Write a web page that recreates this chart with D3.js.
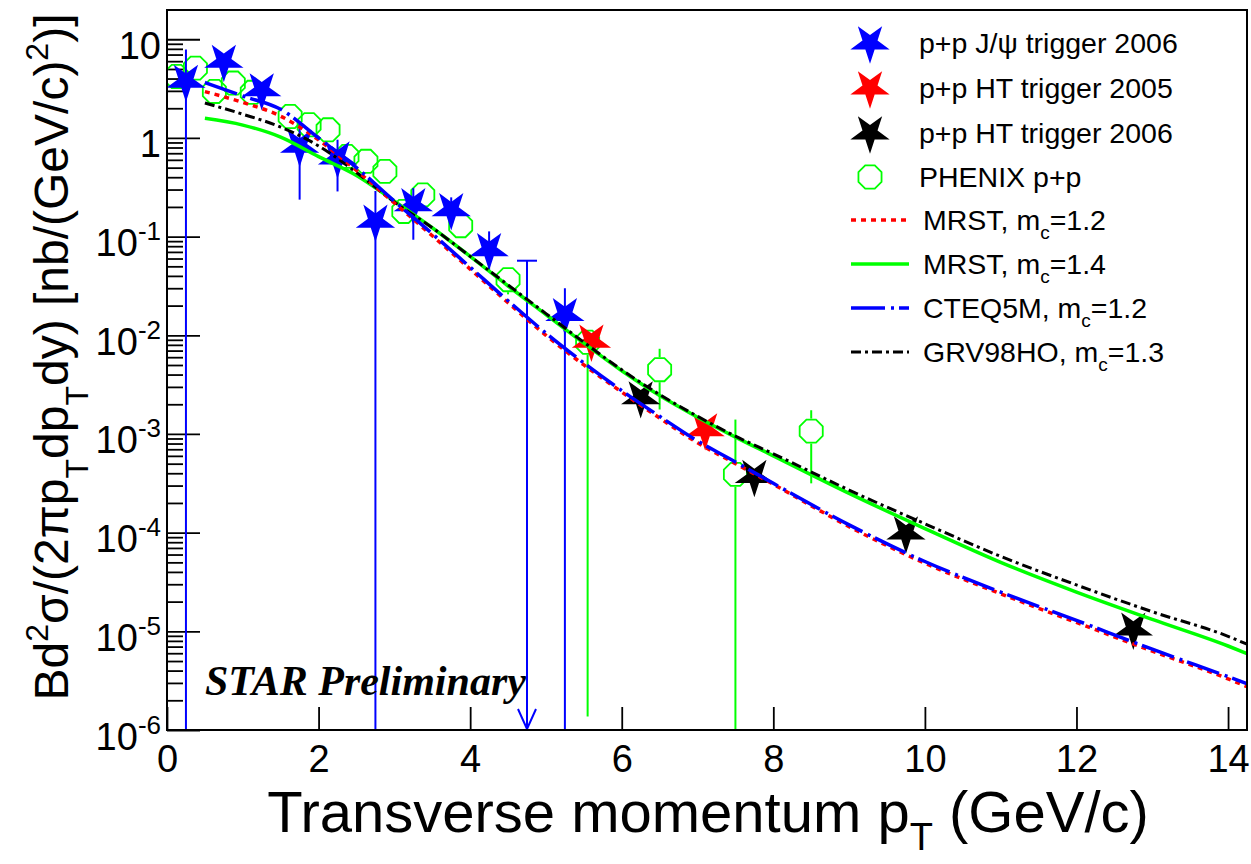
<!DOCTYPE html>
<html>
<head>
<meta charset="utf-8">
<script src="https://cdn.jsdelivr.net/npm/d3@7"></script>
<style>
  body { margin: 0; background: #fff; }
  text { font-family: "Liberation Sans", Arial, sans-serif; fill: #000; }
  text.prelim { font-family: "Liberation Serif", "Times New Roman", serif; font-weight: bold; font-style: italic; }
</style>
</head>
<body>
<svg></svg>
<script>
// ---- data ----
// STAR p+p J/psi trigger 2006
var jpsiPt  = [0.25, 0.75, 1.25, 1.75, 2.25, 2.75, 3.25, 3.75, 4.25, 5.25];
var jpsiVal = [3.74, 5.96, 3.07, 0.82, 0.625, 0.143, 0.21, 0.187, 0.0736, 0.0162];
var jpsiLo  = [1e-7, 5.0, 2.6, 0.237, 0.287, 1e-7, 0.093, 0.13, 0.0445, 1e-7];
var jpsiHi  = [7.9, 7.0, 3.6, 1.4, 0.96, 0.29, 0.31, 0.25, 0.113, 0.030];
// upper limit point
var limitPt = [4.75];
var limitVal = [0.057];
// STAR p+p HT trigger 2005
var ht05Pt  = [5.6, 7.1];
var ht05Val = [0.0087, 0.0011];
// STAR p+p HT trigger 2006
var ht06Pt  = [6.25, 7.75, 9.75, 12.75];
var ht06Val = [0.00232, 0.00037, 9.9e-5, 1.05e-5];
// PHENIX p+p
var phxPt  = [0.125, 0.375, 0.625, 0.875, 1.125, 1.625, 1.875, 2.125, 2.375, 2.625, 2.875, 3.125, 3.375, 3.875, 4.5, 5.55, 6.5, 7.5, 8.5];
var phxVal = [4.2, 5.1, 2.96, 3.6, 2.9, 1.65, 1.36, 1.21, 0.65, 0.58, 0.458, 0.18, 0.265, 0.129, 0.0366, 0.0085, 0.00448, 0.00039, 0.00107];
var phxLo  = [4.2, 5.1, 2.96, 3.6, 2.9, 1.65, 1.36, 1.21, 0.65, 0.58, 0.458, 0.18, 0.265, 0.1, 0.026, 1.37e-6, 0.00177, 1e-7, 0.000316];
var phxHi  = [4.2, 5.1, 2.96, 3.6, 2.9, 1.65, 1.36, 1.21, 0.65, 0.58, 0.458, 0.18, 0.265, 0.16, 0.047, 0.0085, 0.0073, 0.0014, 0.00174];

// theory curves
var thPt   = [0.5, 1, 1.5, 2, 2.5, 3, 3.5, 4, 4.5, 5, 5.5, 6, 6.5, 7, 7.5, 8, 9, 10, 11, 12, 13, 14, 14.25];
var mrst12 = [2.95, 2.29, 1.66, 0.955, 0.468, 0.219, 0.102, 0.0468, 0.0214, 0.0100, 0.00501, 0.00266, 0.00145, 8.13e-4, 5.01e-4, 3.09e-4, 1.15e-4, 4.9e-5, 2.4e-5, 1.23e-5, 6.3e-6, 3.3e-6, 2.75e-6];
var mrst14 = [1.58, 1.35, 1.02, 0.646, 0.417, 0.229, 0.123, 0.0631, 0.0316, 0.0162, 0.00832, 0.00437, 0.00245, 0.00148, 9.3e-4, 6.0e-4, 2.5e-4, 1.1e-4, 5.0e-5, 2.5e-5, 1.32e-5, 7.1e-6, 5.95e-6];
var cteq5m = [3.65, 2.66, 1.95, 1.0, 0.50, 0.229, 0.107, 0.049, 0.0224, 0.0105, 0.00525, 0.00275, 0.00151, 8.5e-4, 5.2e-4, 3.16e-4, 1.2e-4, 5.1e-5, 2.5e-5, 1.29e-5, 6.6e-6, 3.47e-6, 2.95e-6];
var grv98  = [2.26, 1.74, 1.29, 0.83, 0.447, 0.224, 0.123, 0.0631, 0.0324, 0.0166, 0.0085, 0.00447, 0.00251, 0.00151, 9.5e-4, 6.3e-4, 2.7e-4, 1.23e-4, 5.75e-5, 2.95e-5, 1.58e-5, 8.9e-6, 7.4e-6];

var xTicks = [0, 2, 4, 6, 8, 10, 12, 14];
var yMajor = [1e-6, 1e-5, 1e-4, 1e-3, 1e-2, 1e-1, 1, 10];

// ---- setup ----
var width = 1251, height = 864;
var svg = d3.select("svg").attr("width", width).attr("height", height);

var plot = {left: 167, right: 1247, top: 10, bottom: 730};

var xScale = d3.scaleLinear().domain([0, 14.25]).range([plot.left, plot.right]);
var yScale = d3.scaleLog().domain([1e-6, 19.8]).range([plot.bottom, plot.top]).clamp(true);

var yMinor = [];
yMajor.slice(0, -1).forEach(function(d) {
  for (var k = 2; k <= 9; k++) yMinor.push(d * k);
});

svg.append("defs").append("clipPath").attr("id", "clip")
  .append("rect")
  .attr("x", plot.left).attr("y", plot.top)
  .attr("width", plot.right - plot.left).attr("height", plot.bottom - plot.top);

// x axis
var xAxisG = svg.append("g")
  .attr("transform", "translate(0," + plot.bottom + ")")
  .call(d3.axisBottom(xScale).tickValues(xTicks).tickSizeInner(-23).tickSizeOuter(0).tickPadding(15).tickFormat(d3.format("d")));
xAxisG.select(".domain").remove();
xAxisG.selectAll("line").attr("stroke", "#000").attr("stroke-width", 1.8);
xAxisG.selectAll("text").attr("font-size", 38);

// y axis (minor)
var yMinorG = svg.append("g")
  .attr("transform", "translate(" + plot.left + ",0)")
  .call(d3.axisLeft(yScale).tickValues(yMinor).tickSizeInner(-16).tickSizeOuter(0).tickFormat(""));
yMinorG.select(".domain").remove();
yMinorG.selectAll("line").attr("stroke", "#000").attr("stroke-width", 1.8);

// y axis (major)
var yAxisG = svg.append("g")
  .attr("transform", "translate(" + plot.left + ",0)")
  .call(d3.axisLeft(yScale).tickValues(yMajor).tickSizeInner(-33).tickSizeOuter(0).tickPadding(6));
yAxisG.select(".domain").remove();
yAxisG.selectAll("line").attr("stroke", "#000").attr("stroke-width", 1.8);
yAxisG.selectAll(".tick text").each(function(d) {
  var t = d3.select(this);
  var e = Math.round(Math.log10(d));
  t.text(null).attr("font-size", 38).attr("dy", "0.5em");
  if (e >= 0) {
    t.text(d3.format("d")(d));
  } else {
    t.append("tspan").text("10");
    t.append("tspan").attr("dy", -16).attr("font-size", 26).text(e);
  }
});

// ---- data points ----
var pointsG = svg.append("g").attr("clip-path", "url(#clip)");

// PHENIX octagons with bars outside the marker
var octR = 12.5;
function octagon(r) {
  var pts = [];
  for (var i = 0; i < 8; i++) {
    var a = Math.PI / 8 + i * Math.PI / 4;
    pts.push([r * Math.cos(a), r * Math.sin(a)]);
  }
  return "M" + pts.join("L") + "Z";
}
var phx = phxPt.map(function(p, i) { return {pt: p, v: phxVal[i], lo: phxLo[i], hi: phxHi[i]}; });
phx.forEach(function(d) {
  var cx = xScale(d.pt), cy = yScale(d.v);
  if (yScale(d.hi) < cy - octR)
    pointsG.append("line").attr("x1", cx).attr("x2", cx).attr("y1", yScale(d.hi)).attr("y2", cy - octR)
      .attr("stroke", "#00ff00").attr("stroke-width", 2);
  if (yScale(d.lo) > cy + octR)
    pointsG.append("line").attr("x1", cx).attr("x2", cx).attr("y1", cy + octR).attr("y2", yScale(d.lo))
      .attr("stroke", "#00ff00").attr("stroke-width", 2);
});
pointsG.selectAll(".phx").data(phx).enter().append("path")
  .attr("d", octagon(octR))
  .attr("transform", function(d) { return "translate(" + xScale(d.pt) + "," + yScale(d.v) + ")"; })
  .attr("fill", "none").attr("stroke", "#00ff00").attr("stroke-width", 1.8);

// STAR stars
var star = d3.symbol().type(d3.symbolStar).size(480);
function drawStars(pts, vals, color) {
  pointsG.selectAll(null).data(pts.map(function(p, i) { return {pt: p, v: vals[i]}; }))
    .enter().append("path")
    .attr("d", star)
    .attr("transform", function(d) { return "translate(" + xScale(d.pt) + "," + yScale(d.v) + ") rotate(180)"; })
    .attr("fill", color);
}

var jpsi = jpsiPt.map(function(p, i) { return {pt: p, v: jpsiVal[i], lo: jpsiLo[i], hi: jpsiHi[i]}; });
pointsG.selectAll(".jbar").data(jpsi).enter().append("line")
  .attr("x1", function(d) { return xScale(d.pt); })
  .attr("x2", function(d) { return xScale(d.pt); })
  .attr("y1", function(d) { return yScale(d.hi); })
  .attr("y2", function(d) { return yScale(d.lo); })
  .attr("stroke", "#0000ff").attr("stroke-width", 2);

// upper limit: bar with cap and arrow head at the axis
limitPt.forEach(function(p, i) {
  var lx = xScale(p), ly = yScale(limitVal[i]);
  pointsG.append("line").attr("x1", lx).attr("x2", lx).attr("y1", ly).attr("y2", plot.bottom)
    .attr("stroke", "#0000ff").attr("stroke-width", 2);
  pointsG.append("line").attr("x1", lx - 10).attr("x2", lx + 10).attr("y1", ly).attr("y2", ly)
    .attr("stroke", "#0000ff").attr("stroke-width", 2);
  pointsG.append("path")
    .attr("d", "M" + (lx - 9) + "," + (plot.bottom - 21) + "L" + lx + "," + (plot.bottom - 1) + "L" + (lx + 9) + "," + (plot.bottom - 21))
    .attr("fill", "none").attr("stroke", "#0000ff").attr("stroke-width", 2);
});

drawStars(jpsiPt, jpsiVal, "#0000ff");
drawStars(ht05Pt, ht05Val, "#ff0000");
drawStars(ht06Pt, ht06Val, "#000000");

// ---- theory curves ----
var curves = [
  {name: "MRST, m", sub: "c", tail: "=1.2", vals: mrst12, color: "#ff0000", dash: "5,5", w: 3.5},
  {name: "MRST, m", sub: "c", tail: "=1.4", vals: mrst14, color: "#00ff00", dash: null, w: 3.5},
  {name: "CTEQ5M, m", sub: "c", tail: "=1.2", vals: cteq5m, color: "#0000ff", dash: "34,6,3,5", w: 3.5},
  {name: "GRV98HO, m", sub: "c", tail: "=1.3", vals: grv98, color: "#000000", dash: "10,4,3,4", w: 3}
];

var line = d3.line()
  .x(function(d) { return xScale(d[0]); })
  .y(function(d) { return yScale(d[1]); })
  .curve(d3.curveMonotoneX);

var curveG = svg.append("g").attr("clip-path", "url(#clip)");
[1, 3, 0, 2].forEach(function(i) {
  var c = curves[i];
  curveG.append("path")
    .datum(thPt.map(function(p, j) { return [p, c.vals[j]]; }))
    .attr("d", line)
    .attr("fill", "none")
    .attr("stroke", c.color)
    .attr("stroke-width", c.w)
    .attr("stroke-dasharray", c.dash);
});

// frame
svg.append("rect")
  .attr("x", plot.left).attr("y", plot.top)
  .attr("width", plot.right - plot.left).attr("height", plot.bottom - plot.top)
  .attr("fill", "none").attr("stroke", "#000").attr("stroke-width", 2);

// ---- legend ----
var legX = 870, legText = 919, legFont = 28.5;
var legRows = [43, 88, 133, 177, 220, 264, 308, 352];
var leg = svg.append("g");
var markerItems = [
  {label: "p+p J/\u03c8 trigger 2006", color: "#0000ff"},
  {label: "p+p HT trigger 2005", color: "#ff0000"},
  {label: "p+p HT trigger 2006", color: "#000000"}
];
markerItems.forEach(function(m, i) {
  leg.append("path").attr("d", star)
    .attr("transform", "translate(" + legX + "," + legRows[i] + ") rotate(180)")
    .attr("fill", m.color);
  leg.append("text").attr("x", legText).attr("y", legRows[i] + 10)
    .attr("font-size", legFont).text(m.label);
});
leg.append("path").attr("d", octagon(octR))
  .attr("transform", "translate(" + legX + "," + legRows[3] + ")")
  .attr("fill", "none").attr("stroke", "#00ff00").attr("stroke-width", 1.8);
leg.append("text").attr("x", legText).attr("y", legRows[3] + 10)
  .attr("font-size", legFont).text("PHENIX p+p");

curves.forEach(function(c, i) {
  var ry = legRows[4 + i];
  leg.append("line").attr("x1", 851).attr("x2", 909).attr("y1", ry).attr("y2", ry)
    .attr("stroke", c.color).attr("stroke-width", c.w).attr("stroke-dasharray", c.dash);
  var t = leg.append("text").attr("x", legText + 4).attr("y", ry + 10).attr("font-size", legFont);
  t.append("tspan").text(c.name);
  t.append("tspan").attr("dy", 9).attr("font-size", 19).text(c.sub);
  t.append("tspan").attr("dy", -9).text(c.tail);
});

// ---- titles ----
var xt = svg.append("text")
  .attr("x", 708).attr("y", 832)
  .attr("text-anchor", "middle").attr("font-size", 58);
xt.append("tspan").text("Transverse momentum p");
xt.append("tspan").attr("dy", 18).attr("font-size", 38).text("T");
xt.append("tspan").attr("dy", -18).text(" (GeV/c)");

var yt = svg.append("text")
  .attr("transform", "translate(68,357) rotate(-90)")
  .attr("text-anchor", "middle").attr("font-size", 48);
yt.append("tspan").text("Bd");
yt.append("tspan").attr("dy", -20).attr("font-size", 32).text("2");
yt.append("tspan").attr("dy", 20).text("\u03c3/(2\u03c0p");
yt.append("tspan").attr("dy", 20).attr("font-size", 32).text("T");
yt.append("tspan").attr("dy", -20).text("dp");
yt.append("tspan").attr("dy", 20).attr("font-size", 32).text("T");
yt.append("tspan").attr("dy", -20).text("dy) [nb/(GeV/c)");
yt.append("tspan").attr("dy", -20).attr("font-size", 32).text("2");
yt.append("tspan").attr("dy", 20).text(")]");

svg.append("text")
  .attr("class", "prelim")
  .attr("x", 205).attr("y", 695)
  .attr("font-size", 42)
  .text("STAR Preliminary");
</script>
</body>
</html>
